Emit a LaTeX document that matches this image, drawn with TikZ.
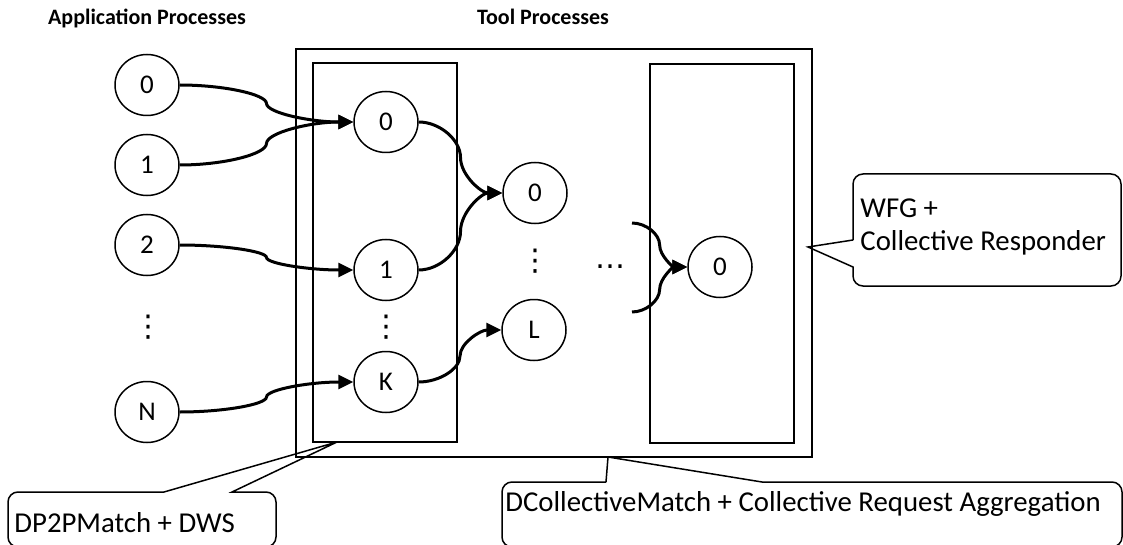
\documentclass[tikz,border=0pt]{standalone}
\usepackage{fontspec}
\setmainfont{Carlito}
\newfontfamily\symfont{DejaVu Sans}
\usetikzlibrary{arrows.meta, positioning, shapes.geometric, calc}

\begin{document}
\begin{tikzpicture}[x=0.5pt, y=-0.5pt, >={Triangle[length=7.5pt, width=7pt]},
    font=\fontsize{14.4}{16.5}\selectfont,
    proc/.style={draw, ellipse, line width=0.75pt, minimum width=32pt, minimum height=30.5pt, inner sep=0pt, font=\fontsize{13.5}{15}\selectfont},
    group/.style={draw, line width=1pt, inner sep=0pt},
    note/.style={draw, line width=0.75pt},
    head/.style={font=\fontsize{11}{13}\selectfont\bfseries},
    gap/.style={font=\fontsize{15}{15}\symfont, inner sep=0pt},
    link/.style={->, line width=1.5pt, to path={let \p1=(\tikztostart), \p2=(\tikztotarget) in
        .. controls ({(3*\x1+\x2)/4}, \y1) and ({(\x1+\x2)/2}, {(3*\y1+\y2)/4}) .. ({(\x1+\x2)/2}, {(\y1+\y2)/2})
        .. controls ({(\x1+\x2)/2}, {(\y1+3*\y2)/4}) and ({(\x1+3*\x2)/4}, \y2) .. (\tikztotarget)}}]
    \useasboundingbox (0,0) rectangle (1123,545);

    \node[head, anchor=base] (apptitle) at (147,25) {Application Processes};
    \node[head, anchor=base] (tooltitle) at (543,25) {Tool Processes};

    \node[group, minimum width=258pt, minimum height=204pt] (tools) at (554,253) {};
    \node[group, minimum width=72pt, minimum height=189.5pt] (lbox) at (385,252.5) {};
    \node[group, minimum width=72pt, minimum height=189.5pt] (rbox) at (722,253.5) {};

    % application side
    \node[proc] (a0) at (147,85) {0};
    \node[proc] (a1) at (147,165) {1};
    \node[proc] (a2) at (147,245) {2};
    \node[gap] (adots) at (148,327) {⋮};
    \node[proc] (aN) at (147,412) {N};

    % tool layers
    \node[proc] (t0) at (386,122) {0};
    \node[proc] (t1) at (386,270) {1};
    \node[gap] (tdots) at (386,327) {⋮};
    \node[proc] (tK) at (386,382) {K};
    \node[proc] (m0) at (535,193) {0};
    \node[gap] (mdots) at (535,261) {⋮};
    \node[proc] (mL) at (534,330) {L};
    \node[gap] (hdots) at (610,267) {…};
    \node[proc] (r0) at (720,267) {0};

    \draw[link] (a0.east) to (t0.west);
    \draw[link] (a1.east) to (t0.west);
    \draw[link] (a2.east) to (t1.west);
    \draw[link] (aN.east) to (tK.west);
    \draw[link] (t0.east) to (m0.west);
    \draw[link] (t1.east) to (m0.west);
    \draw[link] (tK.east) to (mL.west);
    \coordinate (intop) at (632,223);
    \coordinate (inbot) at (632,312);
    \draw[link] (intop) to (r0.west);
    \draw[link] (inbot) to (r0.west);

    % callouts
    \draw[note] (164,492) -- (337,442) -- (232,492) [rounded corners=5pt] -- (276,492) -- (276,547) -- (8,547) -- (8,492) -- (164,492);
    \node[anchor=base west, inner sep=0pt] (dp) at (14,532) {DP2PMatch + DWS};
    \draw[note] (606,482) -- (608,457) -- (762,482) [rounded corners=5pt] -- (1122,482) -- (1122,547) -- (502,547) -- (502,482) -- (606,482);
    \node[anchor=base west, inner sep=0pt] (dc) at (505,511) {DCollectiveMatch + Collective Request Aggregation};
    \draw[note] (853,240) -- (808,247) -- (853,267) [rounded corners=5pt] -- (853,286) -- (1121,286) -- (1121,174) -- (853,174) -- (853,240);
    \node[anchor=north west, inner sep=0pt, align=left] (wfg) at (860,198) {WFG +\\Collective Responder};
\end{tikzpicture}
\end{document}
